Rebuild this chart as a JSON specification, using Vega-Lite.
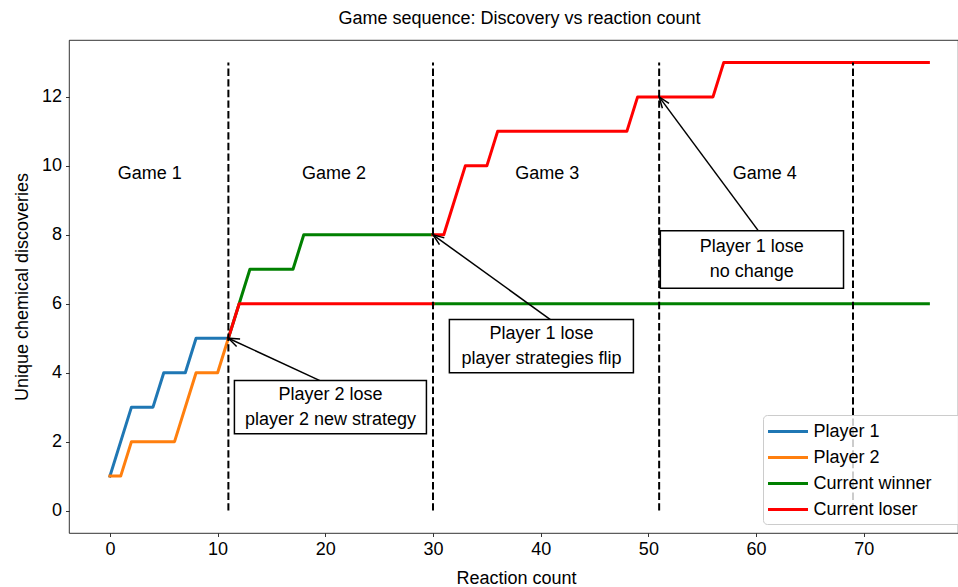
{
  "$schema": "https://vega.github.io/schema/vega-lite/v6.json",
  "width": 889,
  "height": 493,
  "autosize": {"type": "none"},
  "padding": {"left": 69, "top": 40, "right": 0, "bottom": 54},
  "title": {"text": "Game sequence: Discovery vs reaction count", "dx": 6, "offset": 12},
  "datasets": {
    "lines": [
      {"series": "Player 1", "seg": 1, "x": 0, "y": 1},
      {"series": "Player 1", "seg": 1, "x": 2, "y": 3},
      {"series": "Player 1", "seg": 1, "x": 4, "y": 3},
      {"series": "Player 1", "seg": 1, "x": 5, "y": 4},
      {"series": "Player 1", "seg": 1, "x": 7, "y": 4},
      {"series": "Player 1", "seg": 1, "x": 8, "y": 5},
      {"series": "Player 1", "seg": 1, "x": 11, "y": 5},
      {"series": "Player 2", "seg": 1, "x": 0, "y": 1},
      {"series": "Player 2", "seg": 1, "x": 1, "y": 1},
      {"series": "Player 2", "seg": 1, "x": 2, "y": 2},
      {"series": "Player 2", "seg": 1, "x": 6, "y": 2},
      {"series": "Player 2", "seg": 1, "x": 8, "y": 4},
      {"series": "Player 2", "seg": 1, "x": 10, "y": 4},
      {"series": "Player 2", "seg": 1, "x": 11, "y": 5},
      {"series": "Current winner", "seg": 1, "x": 11, "y": 5},
      {"series": "Current winner", "seg": 1, "x": 12, "y": 6},
      {"series": "Current winner", "seg": 1, "x": 13, "y": 7},
      {"series": "Current winner", "seg": 1, "x": 17, "y": 7},
      {"series": "Current winner", "seg": 1, "x": 18, "y": 8},
      {"series": "Current winner", "seg": 1, "x": 30, "y": 8},
      {"series": "Current winner", "seg": 2, "x": 30, "y": 6},
      {"series": "Current winner", "seg": 2, "x": 76, "y": 6},
      {"series": "Current loser", "seg": 1, "x": 11, "y": 5},
      {"series": "Current loser", "seg": 1, "x": 12, "y": 6},
      {"series": "Current loser", "seg": 1, "x": 30, "y": 6},
      {"series": "Current loser", "seg": 2, "x": 30, "y": 8},
      {"series": "Current loser", "seg": 2, "x": 31, "y": 8},
      {"series": "Current loser", "seg": 2, "x": 33, "y": 10},
      {"series": "Current loser", "seg": 2, "x": 35, "y": 10},
      {"series": "Current loser", "seg": 2, "x": 36, "y": 11},
      {"series": "Current loser", "seg": 2, "x": 48, "y": 11},
      {"series": "Current loser", "seg": 2, "x": 49, "y": 12},
      {"series": "Current loser", "seg": 2, "x": 56, "y": 12},
      {"series": "Current loser", "seg": 2, "x": 57, "y": 13},
      {"series": "Current loser", "seg": 2, "x": 76, "y": 13}
    ],
    "dividers": [
      {"x": 11, "y": 0, "y2": 13},
      {"x": 30, "y": 0, "y2": 13},
      {"x": 51, "y": 0, "y2": 13},
      {"x": 69, "y": 0, "y2": 13}
    ],
    "games": [
      {"label": "Game 1", "x": 3.7, "y": 9.75},
      {"label": "Game 2", "x": 20.8, "y": 9.75},
      {"label": "Game 3", "x": 40.6, "y": 9.75},
      {"label": "Game 4", "x": 60.8, "y": 9.75}
    ],
    "arrows": [
      {"id": 1, "x": 19.5, "y": 3.77, "x2": 11, "y2": 5},
      {"id": 2, "x": 40.9, "y": 5.54, "x2": 30, "y2": 8},
      {"id": 3, "x": 60.2, "y": 8.12, "x2": 51, "y2": 12}
    ],
    "boxes": [
      {"x": 11.56, "x2": 29.39, "y": 2.23, "y2": 3.77},
      {"x": 31.52, "x2": 48.61, "y": 4.0, "y2": 5.54},
      {"x": 51.11, "x2": 68.12, "y": 6.45, "y2": 8.12}
    ],
    "notes": [
      {"label": "Player 2 lose\nplayer 2 new strategy", "x": 20.48, "y": 3.0},
      {"label": "Player 1 lose\nplayer strategies flip", "x": 40.07, "y": 4.77},
      {"label": "Player 1 lose\nno change", "x": 59.6, "y": 7.29}
    ]
  },
  "layer": [
    {
      "data": {"name": "lines"},
      "transform": [{"filter": "datum.series === 'Player 1'"}],
      "mark": {"type": "line", "strokeWidth": 3, "strokeCap": "square", "strokeJoin": "round"},
      "encoding": {
        "x": {"field": "x", "type": "quantitative", "title": "Reaction count",
              "scale": {"domain": [-3.8, 78.75], "nice": false, "zero": false},
              "axis": {"values": [0, 10, 20, 30, 40, 50, 60, 70], "titleX": 447}},
        "y": {"field": "y", "type": "quantitative", "title": "Unique chemical discoveries",
              "scale": {"domain": [-0.65, 13.65], "nice": false, "zero": false},
              "axis": {"values": [0, 2, 4, 6, 8, 10, 12]}},
        "color": {"field": "series", "type": "nominal",
                  "scale": {"domain": ["Player 1", "Player 2", "Current winner", "Current loser"],
                            "range": ["#1f77b4", "#ff7f0e", "#008000", "#ff0000"]},
                  "legend": {"title": null, "orient": "none", "legendX": 694, "legendY": 375,
                             "padding": 5, "symbolType": "M-2,0H2", "symbolSize": 400,
                             "symbolStrokeWidth": 3, "symbolOffset": 8.5, "labelOffset": 14,
                             "rowPadding": 5, "labelFontSize": 18, "labelColor": "black",
                             "labelLimit": 200,
                             "strokeColor": "#cccccc", "fillColor": "rgba(255,255,255,0.8)",
                             "cornerRadius": 4,
                             "labelExpr": "datum.label + '\u00a0\u00a0\u00a0\u00a0\u00a0\u00a0\u200b'"}},
        "detail": {"field": "seg"}
      }
    },
    {
      "data": {"name": "lines"},
      "transform": [{"filter": "datum.series === 'Player 2'"}],
      "mark": {"type": "line", "strokeWidth": 3, "strokeCap": "square", "strokeJoin": "round"},
      "encoding": {
        "x": {"field": "x", "type": "quantitative", "title": "Reaction count"},
        "y": {"field": "y", "type": "quantitative", "title": "Unique chemical discoveries"},
        "color": {"field": "series", "type": "nominal"},
        "detail": {"field": "seg"}
      }
    },
    {
      "data": {"name": "lines"},
      "transform": [{"filter": "datum.series === 'Current winner'"}],
      "mark": {"type": "line", "strokeWidth": 3, "strokeCap": "square", "strokeJoin": "round"},
      "encoding": {
        "x": {"field": "x", "type": "quantitative", "title": "Reaction count"},
        "y": {"field": "y", "type": "quantitative", "title": "Unique chemical discoveries"},
        "color": {"field": "series", "type": "nominal"},
        "detail": {"field": "seg"}
      }
    },
    {
      "data": {"name": "lines"},
      "transform": [{"filter": "datum.series === 'Current loser'"}],
      "mark": {"type": "line", "strokeWidth": 3, "strokeCap": "square", "strokeJoin": "round"},
      "encoding": {
        "x": {"field": "x", "type": "quantitative", "title": "Reaction count"},
        "y": {"field": "y", "type": "quantitative", "title": "Unique chemical discoveries"},
        "color": {"field": "series", "type": "nominal"},
        "detail": {"field": "seg"}
      }
    },
    {
      "data": {"name": "dividers"},
      "mark": {"type": "rule", "color": "black", "strokeWidth": 2, "strokeDash": [7.4, 3.2]},
      "encoding": {
        "x": {"field": "x", "type": "quantitative", "title": "Reaction count"},
        "y": {"field": "y", "type": "quantitative", "title": "Unique chemical discoveries"},
        "y2": {"field": "y2"}
      }
    },
    {
      "data": {"name": "games"},
      "mark": {"type": "text", "fontSize": 18, "color": "black", "align": "center", "baseline": "middle"},
      "encoding": {
        "x": {"field": "x", "type": "quantitative", "title": "Reaction count"},
        "y": {"field": "y", "type": "quantitative", "title": "Unique chemical discoveries"},
        "text": {"field": "label"}
      }
    },
    {
      "data": {"name": "arrows"},
      "mark": {"type": "rule", "color": "black", "strokeWidth": 1.5},
      "encoding": {
        "x": {"field": "x", "type": "quantitative", "title": "Reaction count"},
        "y": {"field": "y", "type": "quantitative", "title": "Unique chemical discoveries"},
        "x2": {"field": "x2"},
        "y2": {"field": "y2"}
      }
    },
    {
      "data": {"name": "boxes"},
      "mark": {"type": "rect", "fill": "white", "stroke": "black", "strokeWidth": 1.5},
      "encoding": {
        "x": {"field": "x", "type": "quantitative", "title": "Reaction count"},
        "y": {"field": "y", "type": "quantitative", "title": "Unique chemical discoveries"},
        "x2": {"field": "x2"},
        "y2": {"field": "y2"}
      }
    },
    {
      "data": {"name": "notes"},
      "mark": {"type": "text", "fontSize": 18, "color": "black", "align": "center", "baseline": "middle", "lineBreak": "\n", "lineHeight": 25, "dy": -12.5},
      "encoding": {
        "x": {"field": "x", "type": "quantitative", "title": "Reaction count"},
        "y": {"field": "y", "type": "quantitative", "title": "Unique chemical discoveries"},
        "text": {"field": "label"}
      }
    },
    {
      "data": {"name": "arrows"},
      "transform": [{"filter": "datum.id === 1"}],
      "mark": {"type": "point", "shape": "M-0.75,2L0,0L0.75,2", "size": 121, "angle": 294.9, "filled": false, "color": "black", "strokeWidth": 1.5, "opacity": 1},
      "encoding": {
        "x": {"field": "x2", "type": "quantitative", "title": "Reaction count"},
        "y": {"field": "y2", "type": "quantitative", "title": "Unique chemical discoveries"}
      }
    },
    {
      "data": {"name": "arrows"},
      "transform": [{"filter": "datum.id === 2"}],
      "mark": {"type": "point", "shape": "M-0.75,2L0,0L0.75,2", "size": 121, "angle": 305.9, "filled": false, "color": "black", "strokeWidth": 1.5, "opacity": 1},
      "encoding": {
        "x": {"field": "x2", "type": "quantitative", "title": "Reaction count"},
        "y": {"field": "y2", "type": "quantitative", "title": "Unique chemical discoveries"}
      }
    },
    {
      "data": {"name": "arrows"},
      "transform": [{"filter": "datum.id === 3"}],
      "mark": {"type": "point", "shape": "M-0.75,2L0,0L0.75,2", "size": 121, "angle": 323.5, "filled": false, "color": "black", "strokeWidth": 1.5, "opacity": 1},
      "encoding": {
        "x": {"field": "x2", "type": "quantitative", "title": "Reaction count"},
        "y": {"field": "y2", "type": "quantitative", "title": "Unique chemical discoveries"}
      }
    }
  ],
  "config": {
    "font": "Liberation Sans",
    "view": {"stroke": "black", "strokeWidth": 0.8},
    "title": {"fontSize": 18, "fontWeight": "normal", "color": "black", "anchor": "middle"},
    "axis": {"domain": false, "grid": false, "ticks": true, "tickColor": "black", "tickWidth": 0.8, "tickSize": 3.5,
             "labelFontSize": 18, "labelColor": "black", "labelPadding": 4,
             "titleFontSize": 18, "titleFontWeight": "normal", "titleColor": "black"},
    "axisX": {"titlePadding": 11},
    "axisY": {"titlePadding": 10}
  }
}
